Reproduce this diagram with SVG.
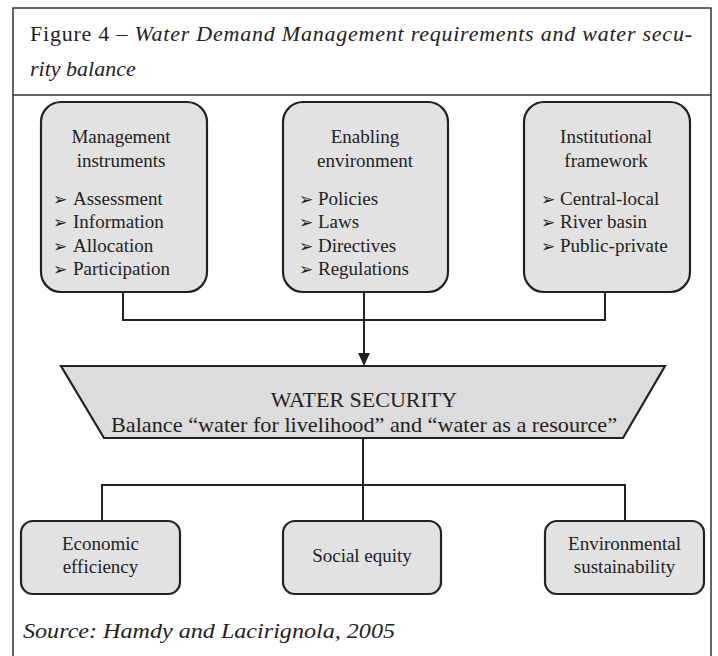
<svg xmlns="http://www.w3.org/2000/svg" width="718" height="656" viewBox="0 0 718 656">
<style>
.frame{fill:none;stroke:#333;stroke-width:1.5}
.box{fill:#e2e2e2;stroke:#222;stroke-width:2.2}
.trap{fill:#dcdcdc;stroke:#222;stroke-width:2.2}
.t{font-family:"Liberation Serif","Times New Roman",serif;font-size:19px;fill:#222}
.w{font-size:22px}
.c{text-anchor:middle}
.h{font-family:"Liberation Serif","Times New Roman",serif;font-size:22px;fill:#222}
.i{font-style:italic}
.b{font-family:"DejaVu Sans",sans-serif;font-size:17px}
.conn{fill:none;stroke:#222;stroke-width:2}
</style>
<rect width="718" height="656" fill="#fff"/>
<g id="frame">
<rect class="frame" x="13" y="8" width="698" height="660"/>
<line class="frame" x1="13" y1="95" x2="711" y2="95"/>
<text class="h" x="30" y="41" textLength="662" lengthAdjust="spacing">Figure 4 – <tspan class="i">Water Demand Management requirements and water secu-</tspan></text>
<text class="h i" x="30" y="76">rity balance</text>
</g>
<g id="connectors">
<path class="conn" d="M123,292 V320 H605 V292"/>
<path class="conn" d="M364,292 V356"/>
<polygon points="358,353 370,353 364,366" fill="#222"/>
<path class="conn" d="M363,438 V521"/>
<path class="conn" d="M102,521 V485 H625 V521"/>
</g>
<g id="management-instruments">
<rect class="box" x="41" y="102" width="166" height="190" rx="20"/>
<text class="t c" x="121" y="143">Management</text>
<text class="t c" x="121" y="167">instruments</text>
<text class="t" y="205"><tspan class="b" x="53">➢</tspan><tspan x="73">Assessment</tspan></text>
<text class="t" y="228"><tspan class="b" x="53">➢</tspan><tspan x="73">Information</tspan></text>
<text class="t" y="252"><tspan class="b" x="53">➢</tspan><tspan x="73">Allocation</tspan></text>
<text class="t" y="275"><tspan class="b" x="53">➢</tspan><tspan x="73">Participation</tspan></text>
</g>
<g id="enabling-environment">
<rect class="box" x="283" y="102" width="165" height="190" rx="20"/>
<text class="t c" x="365" y="143">Enabling</text>
<text class="t c" x="365" y="167">environment</text>
<text class="t" y="205"><tspan class="b" x="299">➢</tspan><tspan x="318">Policies</tspan></text>
<text class="t" y="228"><tspan class="b" x="299">➢</tspan><tspan x="318">Laws</tspan></text>
<text class="t" y="252"><tspan class="b" x="299">➢</tspan><tspan x="318">Directives</tspan></text>
<text class="t" y="275"><tspan class="b" x="299">➢</tspan><tspan x="318">Regulations</tspan></text>
</g>
<g id="institutional-framework">
<rect class="box" x="524" y="102" width="166" height="190" rx="20"/>
<text class="t c" x="606" y="143">Institutional</text>
<text class="t c" x="606" y="167">framework</text>
<text class="t" y="205"><tspan class="b" x="541">➢</tspan><tspan x="560">Central-local</tspan></text>
<text class="t" y="228"><tspan class="b" x="541">➢</tspan><tspan x="560">River basin</tspan></text>
<text class="t" y="252"><tspan class="b" x="541">➢</tspan><tspan x="560">Public-private</tspan></text>
</g>
<g id="water-security">
<polygon class="trap" points="61,366 665,366 623,438 104,438"/>
<text class="t w c" x="364" y="407">WATER SECURITY</text>
<text class="t w c" x="364" y="432" textLength="506" lengthAdjust="spacingAndGlyphs">Balance “water for livelihood” and “water as a resource”</text>
</g>
<g id="economic-efficiency">
<rect class="box" x="21" y="521" width="159" height="73" rx="12"/>
<text class="t c" x="100.5" y="550">Economic</text>
<text class="t c" x="100.5" y="573">efficiency</text>
</g>
<g id="social-equity">
<rect class="box" x="283" y="521" width="158" height="73" rx="12"/>
<text class="t c" x="362" y="562">Social equity</text>
</g>
<g id="environmental-sustainability">
<rect class="box" x="545" y="521" width="159" height="73" rx="12"/>
<text class="t c" x="624.5" y="550">Environmental</text>
<text class="t c" x="624.5" y="573">sustainability</text>
</g>
<g id="source">
<text class="h i" x="23" y="638" textLength="372" lengthAdjust="spacingAndGlyphs">Source: Hamdy and Lacirignola, 2005</text>
</g>
</svg>
